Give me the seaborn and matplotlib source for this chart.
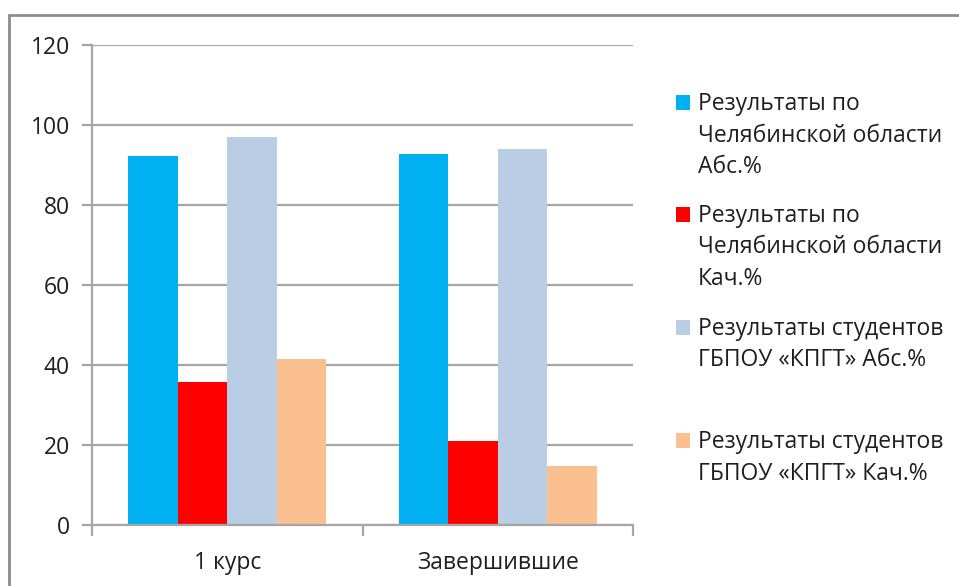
import pandas as pd
import matplotlib.pyplot as plt
import seaborn as sns
from matplotlib.lines import Line2D
from matplotlib.patches import Rectangle

# ------------------------------------------------------------
# Data
# ------------------------------------------------------------
categories = ["1 курс", "Завершившие"]
series = [
    "Результаты по\nЧелябинской области\nАбс.%",
    "Результаты по\nЧелябинской области\nКач.%",
    "Результаты студентов\nГБПОУ «КПГТ» Абс.%",
    "Результаты студентов\nГБПОУ «КПГТ» Кач.%",
]
region_abs = [92.2, 92.8]
region_qual = [35.7, 21.0]
students_abs = [97.0, 94.1]
students_qual = [41.5, 14.8]
colors = ["#00B0F0", "#FF0000", "#B9CDE5", "#FAC090"]
yticks = [0, 20, 40, 60, 80, 100, 120]

rows = []
for name, vals in zip(series, [region_abs, region_qual, students_abs, students_qual]):
    for cat, v in zip(categories, vals):
        rows.append({"Category": cat, "Series": name, "Value": v})
df = pd.DataFrame(rows)

# ------------------------------------------------------------
# Plot
# ------------------------------------------------------------
sns.set_theme(style="white")
plt.rcParams["font.family"] = ["Open Sans", "DejaVu Sans"]

W, H = 959, 586
fig = plt.figure(figsize=(W / 100, H / 100), dpi=100)
ax = fig.add_axes([92 / W, 1 - 525 / H, (633 - 92) / W, (525 - 45) / H])

sns.barplot(data=df, x="Category", y="Value", hue="Series", hue_order=series,
            palette=colors, saturation=1, width=0.733, legend=False,
            linewidth=0, errorbar=None, ax=ax)

grid_c = "#A6A6A6"
text_c = "#1f1f1f"
fs = 16.5

ax.set_xlim(-0.5, 1.5)
ax.set_ylim(0, 120)
ax.set_yticks(yticks)
ax.set_yticklabels([str(t) for t in yticks])
ax.yaxis.grid(True, color=grid_c, linewidth=1.6)
ax.set_axisbelow(True)
ax.set_xlabel("")
ax.set_ylabel("")

for side in ["top", "right"]:
    ax.spines[side].set_visible(False)
for side in ["left", "bottom"]:
    ax.spines[side].set_color(grid_c)
    ax.spines[side].set_linewidth(1.6)

ax.tick_params(axis="y", which="major", left=True, length=7, width=1.6,
               color=grid_c, pad=9, labelsize=fs, labelcolor=text_c)
ax.set_xticks([-0.5, 0.5, 1.5], minor=True)
ax.tick_params(axis="x", which="minor", bottom=True, length=8, width=1.6,
               color=grid_c)
ax.tick_params(axis="x", which="major", bottom=False, length=0, pad=19,
               labelsize=fs, labelcolor=text_c)

# ------------------------------------------------------------
# Legend (Excel-style, evenly distributed entries)
# ------------------------------------------------------------
entry_baselines = [110, 222, 335, 448]
line_step = 31.5
for name, col, yb in zip(series, colors, entry_baselines):
    fig.patches.append(Rectangle((676 / W, 1 - 110 / H + (110 - yb) / H), 14 / W, 15 / H,
                                 transform=fig.transFigure, facecolor=col,
                                 edgecolor="none"))
    for i, line in enumerate(name.split("\n")):
        fig.text(698 / W, 1 - (yb + i * line_step) / H, line, fontsize=fs,
                 color=text_c, ha="left", va="baseline")

# chart frame (top and left edge visible)
frame_c = "#8C8C8C"
fig.add_artist(Line2D([9 / W, 1], [1 - 15 / H, 1 - 15 / H], transform=fig.transFigure,
                      color=frame_c, linewidth=2))
fig.add_artist(Line2D([9 / W, 9 / W], [0, 1 - 15 / H], transform=fig.transFigure,
                      color=frame_c, linewidth=2))

fig.savefig("out.png", dpi=100)
